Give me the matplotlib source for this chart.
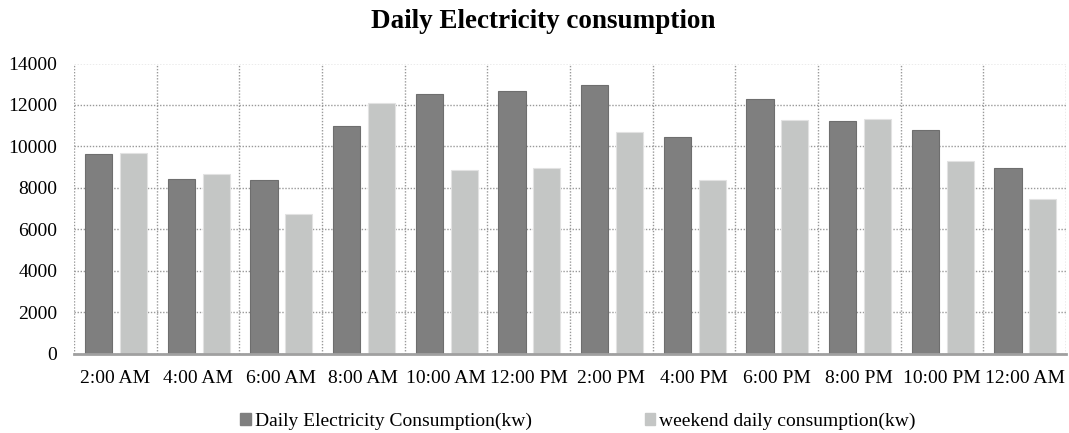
import numpy as np
import matplotlib
matplotlib.use("Agg")
import matplotlib.pyplot as plt
from matplotlib.patches import Patch

# values
hours = ["2:00 AM", "4:00 AM", "6:00 AM", "8:00 AM", "10:00 AM", "12:00 PM",
         "2:00 PM", "4:00 PM", "6:00 PM", "8:00 PM", "10:00 PM", "12:00 AM"]
daily = [9630, 8430, 8380, 11000, 12550, 12650, 12970, 10460, 12280, 11200, 10790, 8960]
weekend = [9680, 8650, 6750, 12110, 8860, 8960, 10710, 8360, 11280, 11330, 9300, 7460]
yticks = [0, 2000, 4000, 6000, 8000, 10000, 12000, 14000]

dark = "#7f7f7f"
light = "#c4c6c5"

plt.rcParams['font.family'] = ['Liberation Serif', 'DejaVu Serif']

fig = plt.figure(figsize=(10.69, 4.33), dpi=100)
ax = fig.add_axes([74 / 1069, 1 - 353.5 / 433, (1066 - 74) / 1069, (353.5 - 63.5) / 433])

x = np.arange(len(hours))
w = 0.33
ax.bar(x - 0.2, daily, w, color=dark, edgecolor="#6e6e6e", linewidth=0.8, zorder=3)
ax.bar(x + 0.22, weekend, w, color=light, edgecolor="#e2e2e2", linewidth=0.8, zorder=3)

ax.set_xlim(-0.5, len(hours) - 0.5)
ax.set_ylim(0, 14000)
ax.set_yticks(yticks)
ax.set_yticklabels([str(v) for v in yticks], fontsize=14)
ax.set_xticks(x)
ax.set_xticklabels(hours, fontsize=14)
ax.set_xticks(np.arange(len(hours) + 1) - 0.5, minor=True)

ax.tick_params(axis="both", which="both", length=0)
ax.tick_params(axis="y", pad=12)
ax.tick_params(axis="x", pad=12)
ax.grid(axis="y", which="major", linestyle=(0, (1, 1.2)), color="#999999", linewidth=1.0, zorder=0)
ax.grid(axis="x", which="minor", linestyle=(0, (1, 1.2)), color="#999999", linewidth=1.0, zorder=0)
ax.grid(axis="x", which="major", visible=False)

for s in ["left", "top", "right"]:
    ax.spines[s].set_visible(False)
ax.spines["bottom"].set_color("#a0a0a0")
ax.spines["bottom"].set_linewidth(2)
ax.spines["bottom"].set_zorder(4)

fig.text(543 / 1069, 1 - 21 / 433, "Daily Electricity consumption", ha="center", va="center",
         fontsize=19.5, fontweight="bold")

handles = [Patch(color=dark), Patch(color=light)]
fig.legend(handles, ["Daily Electricity Consumption(kw)", "weekend daily consumption(kw)"],
           loc="center", bbox_to_anchor=(578 / 1069, 1 - 421 / 433), ncol=2, frameon=False,
           fontsize=14, handlelength=0.55, handleheight=0.55, handletextpad=0.2,
           columnspacing=5.8)

fig.savefig("out.png", dpi=100)
